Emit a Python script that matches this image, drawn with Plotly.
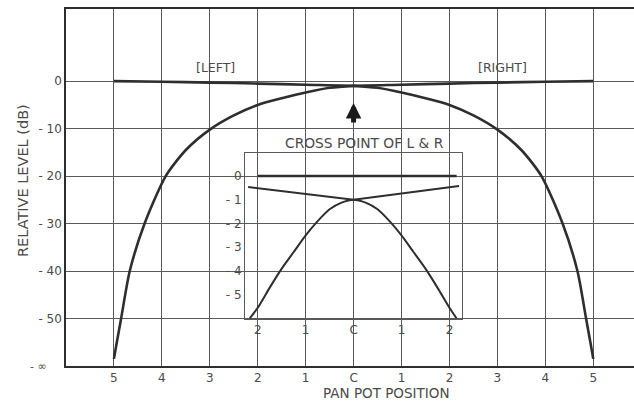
import plotly.graph_objects as go

# ---------------- data ----------------
# pan pot position: negative = left side, 0 = centre, positive = right side
x_tickvals = [-5, -4, -3, -2, -1, 0, 1, 2, 3, 4, 5]
x_ticktext = ["5", "4", "3", "2", "1", "C", "1", "2", "3", "4", "5"]
y_tickvals = [0, -10, -20, -30, -40, -50, -60]
y_ticktext = ["0", "- 10", "- 20", "- 30", "- 40", "- 50", ""]

left_pos = [-5, -4, -3, -2, -1, 0, 0.5, 1, 1.5, 2, 2.5, 3, 3.5, 3.92,
            4.36, 4.67, 4.85, 4.94, 5]
left_db = [0, -0.12, -0.3, -0.51, -0.76, -1.0, -1.4, -2.4, -3.6, -5.0, -7.2,
           -10.2, -14.5, -20, -30, -40, -50, -55, -58.5]

right_pos = [-5, -4.94, -4.85, -4.67, -4.36, -3.92, -3.5, -3, -2.5, -2, -1.5,
             -1, -0.5, 0, 1, 2, 3, 4, 5]
right_db = [-58.5, -55, -50, -40, -30, -20, -14.5, -10.2, -7.2, -5.0, -3.6,
            -2.4, -1.4, -1.0, -0.76, -0.51, -0.3, -0.12, 0]

# inset: cross point of L & R (enlarged)
inset_x_tickvals = [-2, -1, 0, 1, 2]
inset_x_ticktext = ["2", "1", "C", "1", "2"]
inset_y_tickvals = [0, -1, -2, -3, -4, -5]
inset_y_ticktext = ["0", "- 1", "- 2", "- 3", "- 4", "- 5"]

inset_upper_pos = [-2.2, 0, 2.2]
inset_upper_db = [-0.46, -1.0, -0.42]
inset_lower_pos = [-2.17, -2.0, -1.75, -1.5, -1.25, -1.0, -0.75, -0.5, -0.25, 0,
                   0.25, 0.5, 0.75, 1.0, 1.25, 1.5, 1.75, 2.0, 2.15]
inset_lower_db = [-6.0, -5.55, -4.7, -3.9, -3.2, -2.5, -1.9, -1.4, -1.12, -1.0,
                  -1.12, -1.4, -1.9, -2.5, -3.2, -3.9, -4.7, -5.55, -6.0]
inset_zero_pos = [-2.0, 2.15]
inset_zero_db = [0, 0]

# ---------------- styling ----------------
INK = "#2e2e2e"
GRID = "#5a5a5a"
TXT = "#4a4a4a"
FONT = "DejaVu Sans"

W, H = 634, 402
L, R, T, B = 66, 0, 9, 36
PW = W - L - R
PH = H - T - B

fig = go.Figure()

fig.add_trace(go.Scatter(x=left_pos, y=left_db, mode="lines",
                         line=dict(color=INK, width=2.6, shape="spline", smoothing=0.7),
                         hoverinfo="skip", showlegend=False))
fig.add_trace(go.Scatter(x=right_pos, y=right_db, mode="lines",
                         line=dict(color=INK, width=2.6, shape="spline", smoothing=0.7),
                         hoverinfo="skip", showlegend=False))

fig.add_trace(go.Scatter(x=inset_zero_pos, y=inset_zero_db, mode="lines",
                         line=dict(color=INK, width=2.4),
                         xaxis="x2", yaxis="y2", hoverinfo="skip", showlegend=False))
fig.add_trace(go.Scatter(x=inset_upper_pos, y=inset_upper_db, mode="lines",
                         line=dict(color=INK, width=2.0),
                         xaxis="x2", yaxis="y2", hoverinfo="skip", showlegend=False))
fig.add_trace(go.Scatter(x=inset_lower_pos, y=inset_lower_db, mode="lines",
                         line=dict(color=INK, width=2.0, shape="spline", smoothing=0.6),
                         xaxis="x2", yaxis="y2", hoverinfo="skip", showlegend=False))

tickfont = dict(family=FONT, size=12, color=TXT)

fig.update_layout(
    width=W, height=H,
    margin=dict(l=L, r=R, t=T, b=B, pad=0),
    paper_bgcolor="white",
    plot_bgcolor="rgba(0,0,0,0)",
    showlegend=False,
    xaxis=dict(range=[-6, 5.85], tickvals=x_tickvals, ticktext=x_ticktext,
               showgrid=True, gridcolor=GRID, gridwidth=1, zeroline=False,
               showline=True, linecolor=INK, linewidth=1.6, mirror=True,
               ticks="", ticklen=0, ticklabelstandoff=0, tickfont=tickfont,
               fixedrange=True),
    yaxis=dict(range=[-60, 15.2], tickvals=y_tickvals, ticktext=y_ticktext,
               showgrid=True, gridcolor=GRID, gridwidth=1, zeroline=False,
               showline=True, linecolor=INK, linewidth=1.6,
               ticks="", ticklen=0, ticklabelstandoff=0, tickfont=tickfont,
               fixedrange=True),
    xaxis2=dict(domain=[(245 - L) / PW, (462 - L) / PW],
                anchor="y2", range=[-2.266, 2.262],
                tickvals=inset_x_tickvals, ticktext=inset_x_ticktext,
                showgrid=False, zeroline=False, showline=True, linecolor=GRID,
                linewidth=1, mirror=True, ticks="", ticklen=0, ticklabelstandoff=0,
                tickfont=tickfont, fixedrange=True),
    yaxis2=dict(domain=[(366 - 318.5) / PH, (366 - 153) / PH],
                anchor="x2", range=[-6, 0.97],
                tickvals=inset_y_tickvals, ticktext=inset_y_ticktext,
                showgrid=False, zeroline=False, showline=True, linecolor=GRID,
                linewidth=1, mirror=True, ticks="", ticklen=0, ticklabelstandoff=0,
                tickfont=tickfont, fixedrange=True),
)

ann_font = dict(family=FONT, size=12.5, color=TXT)
fig.add_annotation(x=-2.89, y=2.8, xref="x", yref="y", text="[LEFT]",
                   showarrow=False, font=ann_font)
fig.add_annotation(x=3.1, y=2.8, xref="x", yref="y", text="[RIGHT]",
                   showarrow=False, font=ann_font)
fig.add_annotation(x=0.22, y=-13.0, xref="x", yref="y", text="CROSS POINT OF L & R",
                   showarrow=False, font=dict(family=FONT, size=13.8, color=TXT))
# arrow pointing at the cross point
fig.add_annotation(x=0, y=-4.6, xref="x", yref="y", ax=0, ay=-9.0,
                   axref="x", ayref="y", text="", showarrow=True,
                   arrowhead=2, arrowsize=0.62, arrowwidth=5, arrowcolor="#1a1a1a")
# minus-infinity label
fig.add_annotation(x=(49 - L) / PW, y=-60, xref="paper", yref="y",
                   xanchor="right", yanchor="middle", text="- ∞", showarrow=False,
                   font=dict(family=FONT, size=11, color=TXT))
# axis titles
fig.add_annotation(x=(23 - L) / PW, y=(366 - 181) / PH, xref="paper", yref="paper",
                   text="RELATIVE LEVEL (dB)", textangle=-90, showarrow=False,
                   xanchor="center", yanchor="middle",
                   font=dict(family=FONT, size=14.5, color=TXT))
fig.add_annotation(x=(386 - L) / PW, y=(366 - 393) / PH, xref="paper", yref="paper",
                   text="PAN POT POSITION", showarrow=False,
                   xanchor="center", yanchor="middle",
                   font=dict(family=FONT, size=13.5, color=TXT))

fig.write_html("out.html", config={"displayModeBar": False},
               post_script="document.body.style.margin='0px';document.body.style.overflow='hidden';")
